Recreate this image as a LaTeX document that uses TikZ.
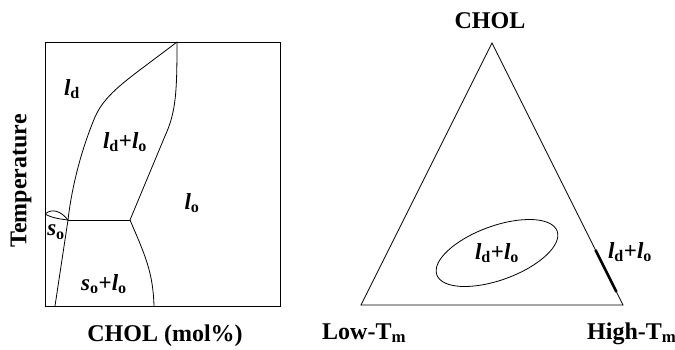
\documentclass[tikz,border=0pt]{standalone}
\usepackage{fontspec}
\setmainfont{Liberation Serif}
\usetikzlibrary{calc}
\newcommand{\phs}[2]{\textit{#1}\textsubscript{#2}}
\begin{document}
\begin{tikzpicture}[x=1pt,y=-1pt,
  lbl/.style={font=\fontsize{24}{28}\selectfont\bfseries, inner sep=0pt},
  phase/.style={font=\fontsize{23}{27}\selectfont\bfseries, inner sep=0pt},
  bnd/.style={line width=0.8pt}]
\useasboundingbox (0,0) rectangle (675,349);

% Draw phase diagram frame
\draw[bnd] (45,42) rectangle (280,306);
\coordinate (top) at (177,42);
\coordinate (tl) at (68,220);
\coordinate (tr) at (130,220);

% Draw phase boundaries
\draw[bnd] (top) .. controls (130,78) and (106,92) .. (95,117)
  .. controls (82,148) and (72,185) .. (tl) -- (55,306);
\draw[bnd] (top) .. controls (177,92) and (176,112) .. (165,136) -- (tr);
\draw[bnd] (tr) .. controls (145,255) and (153,272) .. (154,306);
\draw[bnd] (tl) -- (tr);
\draw[bnd] (45,214) .. controls (52,208) and (61,211) .. (tl);
\draw[bnd] (45,214) .. controls (52,218) and (60,219) .. (tl);

% Label phases
\node[phase] (ld) at (72,89) {\phs{l}{d}};
\node[phase] (ldlo) at (125,142) {\phs{l}{d}+\phs{l}{o}};
\node[phase] (lo) at (192,203) {\phs{l}{o}};
\node[phase] (so) at (56,232) {\phs{s}{o}};
\node[phase] (solo) at (104,284) {\phs{s}{o}+\phs{l}{o}};
\node[lbl, rotate=90] (temp) at (21,181) {Temperature};
\node[lbl, anchor=base] (xlab) at (165,341) {CHOL (mol\%)};

% Draw ternary triangle
\coordinate (chol) at (492,43);
\coordinate (low) at (361,305);
\coordinate (high) at (623,305);
\draw[bnd] (chol) -- (low) -- (high) -- cycle;
\draw[line width=2.6pt] ($(chol)!0.79!(high)$) -- ($(chol)!0.95!(high)$);
\draw[bnd] (497,253) ellipse [x radius=64, y radius=27, rotate=20];

% Label corners and regions
\node[lbl, anchor=base] (cholt) at (490,28) {CHOL};
\node[lbl, anchor=base west] (lowt) at (322,339) {Low-T\textsubscript{m}};
\node[lbl, anchor=base west] (hight) at (587,339) {High-T\textsubscript{m}};
\node[phase] (ell) at (497,253) {\phs{l}{d}+\phs{l}{o}};
\node[phase] (side) at (630,252) {\phs{l}{d}+\phs{l}{o}};

\end{tikzpicture}
\end{document}
